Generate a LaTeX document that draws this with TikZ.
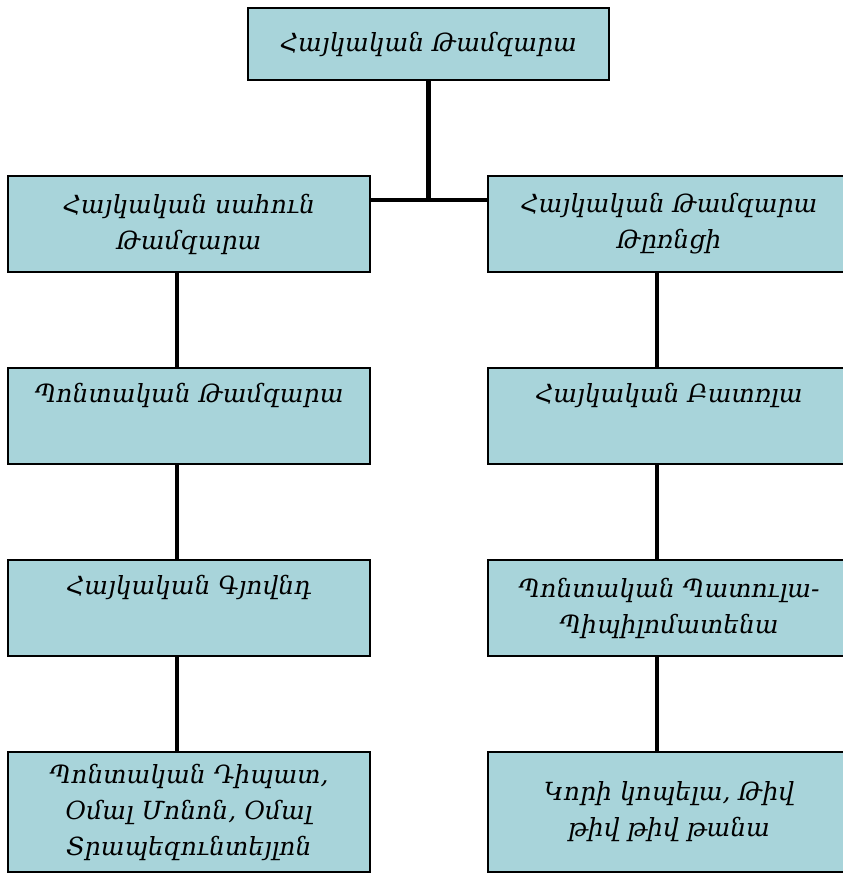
\documentclass[tikz,border=0pt]{standalone}
\usepackage{fontspec}
\setmainfont{DejaVu Serif}
\newfontfamily\armfont[Script=Armenian]{DejaVu Serif}
\definecolor{boxfill}{RGB}{168,212,218}
\tikzset{
  orgbox/.style={draw=black, line width=1.6pt, fill=boxfill, align=center,
    font=\armfont\itshape\fontsize{25}{36}\selectfont, inner sep=0pt},
  link/.style={line width=4.5pt, black}
}
\begin{document}
\begin{tikzpicture}[x=1pt,y=-1pt]
\useasboundingbox (0,0) rectangle (843,873);
\node[orgbox, minimum width=361pt, minimum height=72pt] (top) at (428.5,44) {Հայկական Թամզարա};
\node[orgbox, minimum width=362pt, minimum height=96pt] (l1) at (189,224) {Հայկական սահուն\\Թամզարա};
\node[orgbox, minimum width=362pt, minimum height=96pt] (r1) at (669,224) {Հայկական Թամզարա\\Թըռնցի};
\node[orgbox, minimum width=362pt, minimum height=96pt] (l2) at (189,416) {Պոնտական Թամզարա\\\strut};
\node[orgbox, minimum width=362pt, minimum height=96pt] (r2) at (669,416) {Հայկական Բատռլա\\\strut};
\node[orgbox, minimum width=362pt, minimum height=96pt] (l3) at (189,608) {Հայկական Գյովնդ\\\strut};
\node[orgbox, minimum width=362pt, minimum height=96pt] (r3) at (669,608) {Պոնտական Պատուլա-\\Պիպիլոմատենա};
\node[orgbox, minimum width=362pt, minimum height=120pt] (l4) at (189,812) {Պոնտական Դիպատ,\\Օմալ Մոնոն, Օմալ\\Տրապեզունտեյլոն};
\node[orgbox, minimum width=362pt, minimum height=120pt] (r4) at (669,812) {Կորի կոպելա, Թիվ\\թիվ թիվ թանա};
\coordinate (lx) at (177,0);
\coordinate (rx) at (657,0);
\coordinate (hub) at (428.5,200);
\draw[link] (top.south) -- (hub);
\draw[link] (l1.east |- hub) -- (r1.west |- hub);
\draw[link] (l1.south -| lx) -- (l2.north -| lx);
\draw[link] (l2.south -| lx) -- (l3.north -| lx);
\draw[link] (l3.south -| lx) -- (l4.north -| lx);
\draw[link] (r1.south -| rx) -- (r2.north -| rx);
\draw[link] (r2.south -| rx) -- (r3.north -| rx);
\draw[link] (r3.south -| rx) -- (r4.north -| rx);
\end{tikzpicture}
\end{document}
